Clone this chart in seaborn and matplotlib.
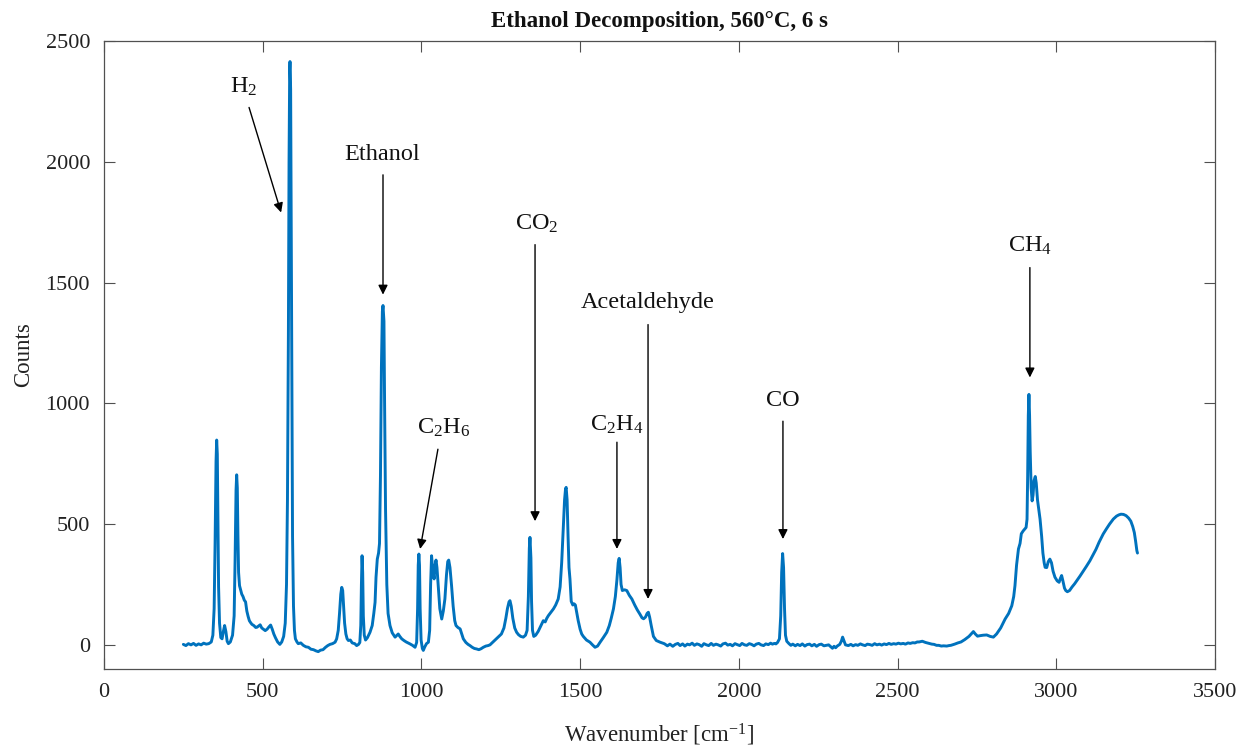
import matplotlib
matplotlib.use("Agg")
import matplotlib.pyplot as plt
import seaborn as sns
import numpy as np
import pandas as pd

# ---- data ----
wavenumber = [
    250, 258, 266, 274, 282, 290, 298, 306, 314, 322, 330, 338, 343, 347, 350, 353, 355, 357, 359, 361,
    364, 368, 372, 376, 380, 384, 388, 392, 398, 405, 410, 413, 416, 418, 420, 422, 424, 427, 431, 434,
    438, 442, 446, 450, 454, 458, 462, 466, 472, 478, 482, 487, 492, 497, 502, 508, 514, 520, 525, 530,
    535, 540, 547, 554, 560, 566, 571, 575, 578, 581, 583, 585, 586, 588, 590, 592, 594, 597, 600, 603,
    608, 612, 620, 628, 636, 644, 652, 660, 668, 675, 682, 690, 698, 705, 712, 720, 728, 733, 738, 742,
    746, 749, 752, 755, 758, 762, 766, 770, 776, 782, 790, 796, 802, 806, 809, 811, 813, 815, 817, 820,
    824, 830, 838, 845, 850, 854, 857, 861, 865, 868, 871, 874, 877, 879, 882, 884, 887, 891, 895, 901,
    908, 917, 923, 927, 932, 938, 945, 952, 958, 964, 972, 980, 985, 988, 990, 992, 994, 996, 999, 1003,
    1006, 1010, 1016, 1022, 1026, 1029, 1032, 1035, 1038, 1040, 1043, 1046, 1049, 1053, 1058, 1064, 1069, 1074, 1079, 1083,
    1086, 1090, 1095, 1100, 1105, 1109, 1115, 1122, 1127, 1132, 1140, 1147, 1153, 1160, 1167, 1174, 1181, 1188, 1195, 1203,
    1210, 1216, 1224, 1232, 1242, 1252, 1260, 1266, 1271, 1276, 1279, 1283, 1288, 1294, 1300, 1306, 1313, 1321, 1328, 1333,
    1337, 1340, 1342, 1345, 1347, 1350, 1354, 1360, 1368, 1375, 1384, 1390, 1395, 1400, 1408, 1416, 1423, 1431, 1437, 1442,
    1447, 1451, 1454, 1456, 1459, 1462, 1465, 1468, 1472, 1477, 1481, 1485, 1490, 1494, 1500, 1505, 1510, 1520, 1531, 1539,
    1547, 1555, 1563, 1573, 1584, 1592, 1598, 1605, 1611, 1616, 1620, 1623, 1626, 1629, 1633, 1640, 1647, 1655, 1663, 1672,
    1680, 1688, 1695, 1700, 1706, 1711, 1715, 1719, 1724, 1731, 1740, 1752, 1765, 1775, 1783, 1792, 1800, 1808, 1815, 1823,
    1830, 1838, 1845, 1853, 1860, 1868, 1875, 1883, 1890, 1898, 1905, 1913, 1920, 1928, 1935, 1943, 1950, 1958, 1965, 1973,
    1980, 1988, 1995, 2003, 2010, 2018, 2025, 2033, 2040, 2048, 2055, 2063, 2070, 2078, 2085, 2093, 2100, 2106, 2112, 2117,
    2122, 2128, 2132, 2135, 2138, 2141, 2144, 2147, 2151, 2158, 2164, 2170, 2178, 2185, 2193, 2200, 2208, 2215, 2223, 2230,
    2238, 2245, 2253, 2260, 2268, 2275, 2283, 2290, 2295, 2300, 2305, 2310, 2318, 2323, 2327, 2331, 2336, 2345, 2353, 2360,
    2368, 2375, 2383, 2390, 2398, 2405, 2413, 2420, 2428, 2435, 2443, 2450, 2458, 2465, 2473, 2480, 2488, 2495, 2503, 2510,
    2518, 2525, 2533, 2540, 2548, 2555, 2562, 2568, 2578, 2588, 2600, 2608, 2615, 2623, 2630, 2638, 2645, 2655, 2662, 2668,
    2680, 2690, 2700, 2712, 2725, 2732, 2739, 2745, 2752, 2760, 2770, 2781, 2792, 2802,
    2812, 2825, 2839, 2850, 2860, 2866, 2870, 2875, 2881, 2886, 2890, 2896, 2901, 2905, 2908, 2910, 2912, 2914, 2916, 2918,
    2921, 2924, 2927, 2930, 2934, 2937, 2941, 2945, 2949, 2954, 2958, 2962, 2965, 2970, 2975, 2980, 2985, 2990, 2996, 3003,
    3009, 3013, 3017, 3021, 3026, 3030, 3035, 3042, 3050, 3058, 3065, 3075, 3085, 3095, 3106, 3115, 3125, 3135, 3148, 3158,
    3168, 3180, 3190, 3197, 3204, 3212, 3220, 3228, 3235, 3241, 3246, 3250, 3254, 3256,
]
counts = [
    2, -3, 5, 0, 6, -2, 4, 0, 7, 3, 5, 12, 40, 150, 420, 760, 848, 790, 520, 240,
    90, 30, 25, 55, 80, 55, 15, 5, 12, 40, 120, 350, 640, 704, 650, 450, 300, 245, 225, 210,
    200, 185, 178, 140, 118, 100, 92, 85, 80, 72, 73, 78, 83, 70, 65, 59, 65, 75, 82, 65,
    45, 30, 12, 2, 12, 35, 90, 250, 600, 1300, 2000, 2380, 2415, 2300, 1700, 1000, 450, 160, 60, 25,
    12, 5, 8, -2, -8, -10, -18, -20, -25, -28, -22, -20, -10, -3, 2, 5, 11, 25, 60, 130,
    210, 238, 225, 160, 90, 45, 25, 18, 20, 8, 5, -3, 2, 10, 80, 250, 369, 300, 120, 40,
    20, 30, 52, 80, 130, 176, 280, 355, 380, 420, 700, 1150, 1380, 1405, 1340, 1000, 560, 250, 130, 80,
    50, 32, 40, 45, 35, 25, 18, 12, 8, 4, -2, -10, 10, 150, 330, 376, 330, 150, 20, -15,
    -23, -10, 5, 11, 60, 250, 369, 320, 290, 273, 330, 351, 320, 245, 150, 107, 140, 190, 290, 345,
    351, 320, 245, 160, 100, 80, 72, 66, 45, 25, 10, 2, -3, -10, -15, -17, -20, -16, -10, -5,
    -3, 0, 10, 20, 32, 45, 70, 110, 150, 178, 183, 160, 110, 70, 52, 42, 35, 32, 40, 60,
    200, 400, 445, 360, 180, 60, 35, 40, 56, 75, 100, 95, 110, 121, 135, 149, 165, 190, 240, 342,
    480, 600, 645, 652, 600, 450, 320, 273, 180, 165, 170, 165, 130, 100, 65, 45, 35, 20, 11, 0,
    -10, -5, 11, 30, 52, 80, 110, 149, 200, 270, 340, 358, 320, 250, 225, 228, 225, 205, 190, 165,
    145, 128, 112, 108, 115, 130, 135, 115, 80, 35, 18, 11, 5, -4, 3, -6, 2, 6, -3, 4,
    -5, 3, 0, 7, -2, 4, 1, -6, 5, 0, -3, 6, -2, 3, 0, -5, 4, 7, -1, 2,
    -4, 5, 1, -3, 6, 0, -2, 5, 2, -4, 3, 6, 0, -3, 4, 1, 7, 3, 6, 4,
    10, 25, 120, 300, 378, 320, 150, 40, 15, 5, -2, 3, -4, 2, -3, 4, -5, 1, 3, -4,
    2, -6, 1, 3, -4, -2, 0, -8, -14, -6, -12, -5, 2, 15, 32, 18, 0, -3, 2, -4,
    1, -2, 4, 0, -3, 3, 1, -2, 5, 0, 3, -1, 4, 1, 6, 2, 5, 3, 7, 4,
    6, 3, 8, 6, 9, 8, 12, 12, 15, 10, 6, 3, 2, -2, -2, -5, -4, -5, -3, -2,
    3, 8, 12, 22, 35, 45, 55, 45, 36, 38, 40, 41, 35, 32,
    45, 70, 107, 130, 162, 200, 245, 330, 397, 420, 460, 472, 480, 486, 520, 700, 950, 1037, 950, 800,
    650, 596, 620, 680, 697, 670, 600, 560, 521, 450, 380, 340, 321, 320, 345, 355, 340, 305, 280, 265,
    259, 275, 287, 265, 235, 225, 220, 225, 240, 253, 266, 285, 305, 325, 348, 370, 395, 425, 459, 480,
    500, 521, 533, 538, 541, 540, 535, 525, 512, 490, 465, 430, 390, 380,
]

x_ticks = [0, 500, 1000, 1500, 2000, 2500, 3000, 3500]
y_ticks = [0, 500, 1000, 1500, 2000, 2500]

# annotations: label, text position, arrow tail, arrow head (data coords)
annotations = [
    ("H$_2$", (441, 2310), (457, 2225), (558, 1790)),
    ("Ethanol", (876, 2030), (879, 1946), (879, 1450)),
    ("C$_2$H$_6$", (1071, 900), (1052, 810), (996, 397)),
    ("CO$_2$", (1364, 1744), (1358, 1657), (1358, 512)),
    ("Acetaldehyde", (1714, 1417), (1714, 1326), (1714, 190)),
    ("C$_2$H$_4$", (1616, 909), (1616, 839), (1616, 397)),
    ("CO", (2139, 1012), (2139, 926), (2139, 438)),
    ("CH$_4$", (2917, 1653), (2917, 1562), (2917, 1107)),
]

df = pd.DataFrame({"Wavenumber": wavenumber, "Counts": counts})

sns.set_style("ticks")
plt.rcParams["font.family"] = ["Liberation Serif", "DejaVu Serif"]
plt.rcParams["mathtext.fontset"] = "custom"
plt.rcParams["mathtext.rm"] = "Liberation Serif"
plt.rcParams["mathtext.it"] = "Liberation Serif:italic"
plt.rcParams["mathtext.bf"] = "Liberation Serif:bold"

fig = plt.figure(figsize=(12.41, 7.46), dpi=100)
ax = fig.add_axes([0.0838, 0.1032, 0.8952, 0.8418])

sns.lineplot(data=df, x="Wavenumber", y="Counts", ax=ax, color="#0072BD",
             linewidth=2.1, estimator=None, sort=False)

ax.set_xlim(0, 3500)
ax.set_ylim(-100, 2500)
ax.set_xticks(x_ticks)
ax.set_yticks(y_ticks)
ax.tick_params(direction="in", top=True, right=True, length=8, width=0.8,
               labelsize=16, colors="#505050", labelcolor="#222222", pad=10)
for sp in ax.spines.values():
    sp.set_visible(True)
    sp.set_color("#505050")
    sp.set_linewidth(0.9)

ax.set_xlabel("Wavenumber [cm$^{-1}$]", fontsize=16.5, color="#222222", labelpad=14)
ax.set_ylabel("Counts", fontsize=16.5, color="#222222", labelpad=8)
ax.set_title("Ethanol Decomposition, 560\u00b0C, 6 s", fontsize=16.5,
             fontweight="bold", color="#111111", pad=10)

for label, tpos, tail, head in annotations:
    ax.text(tpos[0], tpos[1], label, fontsize=17.5, ha="center", va="center",
            color="#111111")
    ax.annotate("", xy=head, xytext=tail,
                arrowprops=dict(arrowstyle="-|>", color="black", lw=1.0,
                                mutation_scale=14, shrinkA=0, shrinkB=0))

fig.savefig("out.png", dpi=100)
